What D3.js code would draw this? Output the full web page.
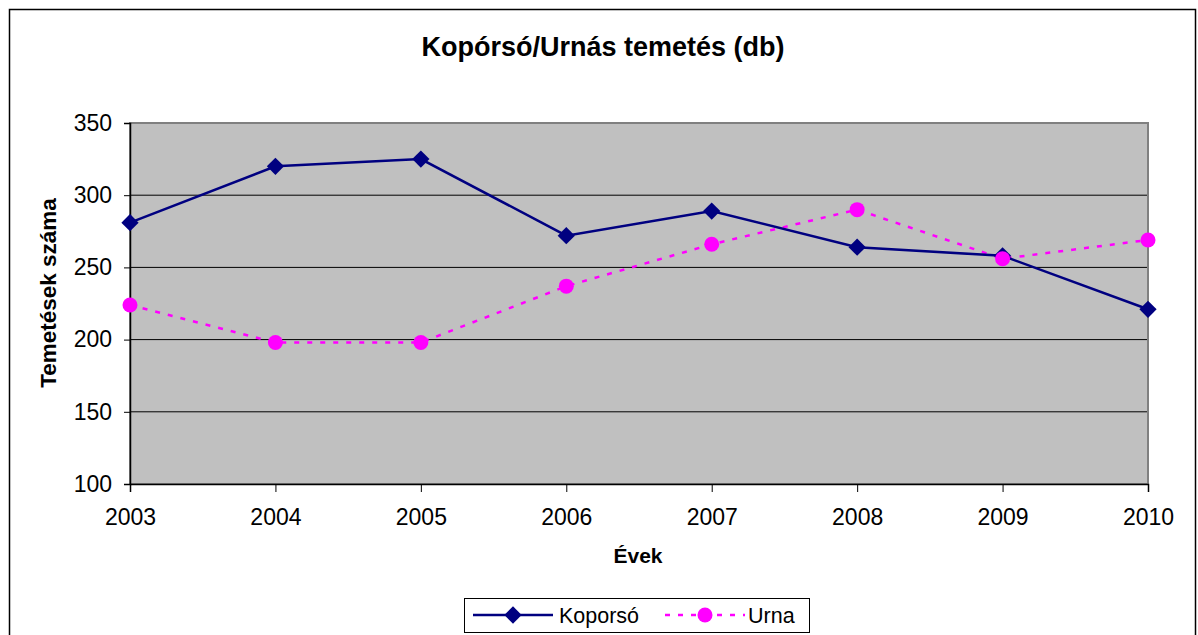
<!DOCTYPE html>
<html lang="hu">
<head>
<meta charset="utf-8">
<title>Kopórsó/Urnás temetés</title>
<script src="https://cdn.jsdelivr.net/npm/d3@7"></script>
<style>
  body { margin: 0; background: #fff; }
  text { font-family: "Liberation Sans", Arial, sans-serif; }
</style>
</head>
<body>
<script>
// data
var years = ["2003", "2004", "2005", "2006", "2007", "2008", "2009", "2010"];
var koporso = [281, 320, 325, 272, 289, 264, 258, 221];
var urna = [224, 198, 198, 237, 266, 290, 256, 269];
var yTicks = [100, 150, 200, 250, 300, 350];

var W = 1198, H = 635;
var plot = {left: 130, right: 1148, top: 123, bottom: 484};
var FONT = "'Liberation Sans', Arial, sans-serif";

var svg = d3.select("body").append("svg")
  .attr("width", W).attr("height", H);

// outer chart border
svg.append("rect")
  .attr("x", 9.5).attr("y", 9.5)
  .attr("width", 1186).attr("height", 640)
  .attr("fill", "#fff").attr("stroke", "#000").attr("stroke-width", 1.5);

var x = d3.scalePoint().domain(years).range([plot.left, plot.right]);
var y = d3.scaleLinear().domain([100, 350]).range([plot.bottom, plot.top]);

// plot area
svg.append("rect")
  .attr("x", plot.left).attr("y", plot.top)
  .attr("width", plot.right - plot.left).attr("height", plot.bottom - plot.top)
  .attr("fill", "#c0c0c0");

// gridlines
svg.append("g").selectAll("line")
  .data(yTicks.filter(function(d) { return d > 100 && d < 350; }))
  .enter().append("line")
  .attr("x1", plot.left).attr("x2", plot.right)
  .attr("y1", function(d) { return y(d); }).attr("y2", function(d) { return y(d); })
  .attr("stroke", "#000").attr("stroke-width", 1);

// plot border
svg.append("rect")
  .attr("x", plot.left).attr("y", plot.top)
  .attr("width", plot.right - plot.left).attr("height", plot.bottom - plot.top)
  .attr("fill", "none").attr("stroke", "#808080").attr("stroke-width", 2);

// y axis
var yAxis = svg.append("g")
  .attr("transform", "translate(" + plot.left + ",0)")
  .call(d3.axisLeft(y).tickValues(yTicks).tickSize(6).tickPadding(12));
yAxis.select(".domain").attr("stroke", "#000").attr("stroke-width", 1.5);
yAxis.selectAll(".tick line").attr("stroke", "#000");
yAxis.selectAll("text").attr("fill", "#000")
  .style("font-size", "23px").style("font-family", FONT);

// x axis
var xAxis = svg.append("g")
  .attr("transform", "translate(0," + plot.bottom + ")")
  .call(d3.axisBottom(x).tickSize(8).tickPadding(17));
xAxis.select(".domain").attr("stroke", "#000").attr("stroke-width", 1.5);
xAxis.selectAll(".tick line").attr("stroke", "#000");
xAxis.selectAll("text").attr("fill", "#000")
  .style("font-size", "23px").style("font-family", FONT);

// lines
var line = d3.line()
  .x(function(d, i) { return x(years[i]); })
  .y(function(d) { return y(d); });

svg.append("path").datum(urna)
  .attr("d", line)
  .attr("fill", "none").attr("stroke", "#ff00ff")
  .attr("stroke-width", 2.5).attr("stroke-dasharray", "5,8");

svg.append("path").datum(koporso)
  .attr("d", line)
  .attr("fill", "none").attr("stroke", "#000080")
  .attr("stroke-width", 2.5);

var diamond = d3.symbol().type(d3.symbolDiamond2).size(190);

svg.append("g").selectAll("path")
  .data(koporso).enter().append("path")
  .attr("d", diamond)
  .attr("transform", function(d, i) { return "translate(" + x(years[i]) + "," + y(d) + ")"; })
  .attr("fill", "#000080");

svg.append("g").selectAll("circle")
  .data(urna).enter().append("circle")
  .attr("cx", function(d, i) { return x(years[i]); })
  .attr("cy", function(d) { return y(d); })
  .attr("r", 7.5)
  .attr("fill", "#ff00ff");

// titles
svg.append("text")
  .attr("x", 603).attr("y", 56)
  .attr("text-anchor", "middle")
  .style("font-size", "27px").attr("font-weight", "bold")
  .text("Kopórsó/Urnás temetés (db)");

svg.append("text")
  .attr("transform", "translate(56,293) rotate(-90)")
  .attr("text-anchor", "middle")
  .style("font-size", "22.5px").attr("font-weight", "bold")
  .text("Temetések száma");

svg.append("text")
  .attr("x", 638).attr("y", 563)
  .attr("text-anchor", "middle")
  .style("font-size", "21px").attr("font-weight", "bold")
  .text("Évek");

// legend
var lg = svg.append("g");
lg.append("rect")
  .attr("x", 464.5).attr("y", 598.5)
  .attr("width", 345).attr("height", 34)
  .attr("fill", "#fff").attr("stroke", "#000").attr("stroke-width", 1);

lg.append("line")
  .attr("x1", 473).attr("x2", 553).attr("y1", 615).attr("y2", 615)
  .attr("stroke", "#000080").attr("stroke-width", 2.5);
lg.append("path").attr("d", diamond)
  .attr("transform", "translate(513,615)").attr("fill", "#000080");
lg.append("text")
  .attr("x", 559).attr("y", 623)
  .style("font-size", "21.5px")
  .text("Koporsó");

lg.append("line")
  .attr("x1", 665).attr("x2", 745).attr("y1", 615).attr("y2", 615)
  .attr("stroke", "#ff00ff").attr("stroke-width", 2.5).attr("stroke-dasharray", "5,8");
lg.append("circle")
  .attr("cx", 705).attr("cy", 615).attr("r", 7.5).attr("fill", "#ff00ff");
lg.append("text")
  .attr("x", 748).attr("y", 623)
  .style("font-size", "21.5px")
  .text("Urna");
</script>
</body>
</html>
